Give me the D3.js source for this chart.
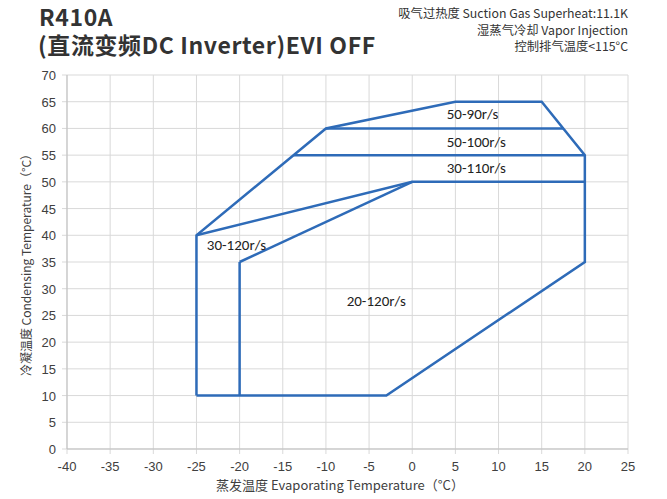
<!DOCTYPE html>
<html><head><meta charset="utf-8">
<script src="https://cdn.jsdelivr.net/npm/d3@7"></script>
<style>body{margin:0;background:#fff}svg{display:block}</style>
</head><body><svg id="c" width="667" height="499"></svg>
<script>
const xTicks = [-40,-35,-30,-25,-20,-15,-10,-5,0,5,10,15,20,25];
const yTicks = [0,5,10,15,20,25,30,35,40,45,50,55,60,65,70];
// outer envelope (evaporating, condensing)
const outerX = [-25,-25,-10,5,15,20,20,-3,-25];
const outerY = [10,40,60,65,65,55,35,10,10];
// inner lines
const segments = [
  {x:[-10,17.5], y:[60,60]},
  {x:[-13.75,20], y:[55,55]},
  {x:[-25,0,20], y:[40,50,50]},
  {x:[-20,0], y:[35,50]},
  {x:[-20,-20], y:[10,35]}
];
const labels = ["50-90r/s","50-100r/s","30-110r/s","30-120r/s","20-120r/s"];
const labelX = [4,4,4,-23.8,-7.6];
const labelY = [61.8,56.6,51.7,37.3,26.7];

const svg = d3.select("#c");
const x = d3.scaleLinear().domain([-40,25]).range([67,628]);
const y = d3.scaleLinear().domain([0,70]).range([449,75]);

// grid
svg.append("g").selectAll("line").data(xTicks).join("line")
  .attr("x1",d=>x(d)).attr("x2",d=>x(d)).attr("y1",y(70)).attr("y2",y(0)+5)
  .attr("stroke","#d9d9d9").attr("stroke-width",1);
svg.append("g").selectAll("line").data(yTicks).join("line")
  .attr("x1",x(-40)-5).attr("x2",x(25)).attr("y1",d=>y(d)).attr("y2",d=>y(d))
  .attr("stroke","#d9d9d9").attr("stroke-width",1);
svg.append("line").attr("x1",x(-40)).attr("x2",x(-40)).attr("y1",y(70)).attr("y2",y(0)).attr("stroke","#bfbfbf");
svg.append("line").attr("x1",x(-40)).attr("x2",x(25)).attr("y1",y(0)).attr("y2",y(0)).attr("stroke","#bfbfbf");

const tf = "'Liberation Sans', Arial, sans-serif";
svg.append("g").selectAll("text").data(xTicks).join("text")
  .attr("x",d=>x(d)).attr("y",471).attr("text-anchor","middle")
  .attr("font-family",tf).attr("font-size",13).attr("fill","#404040").text(d=>d);
svg.append("g").selectAll("text").data(yTicks).join("text")
  .attr("x",56).attr("y",d=>y(d)+5).attr("text-anchor","end")
  .attr("font-family",tf).attr("font-size",13).attr("fill","#404040").text(d=>d);

const line = d3.line().x(d=>x(d[0])).y(d=>y(d[1]));
const blue = "#2e6bb8";
svg.append("path").attr("d", line(d3.zip(outerX,outerY)))
  .attr("fill","none").attr("stroke",blue).attr("stroke-width",2.5).attr("stroke-linejoin","miter");
segments.forEach(s=>{
  svg.append("path").attr("d", line(d3.zip(s.x,s.y)))
    .attr("fill","none").attr("stroke",blue).attr("stroke-width",2.5);
});

labels.forEach((t,i)=>{
  svg.append("text").attr("x",x(labelX[i])).attr("y",y(labelY[i]))
    .attr("font-family","Carlito, Calibri, 'Open Sans', sans-serif").attr("font-size",15).attr("fill","#222").text(t);
});

// title
const cjk = "'Noto Sans CJK SC', 'Noto Sans', sans-serif";
svg.append("text").attr("x",39).attr("y",26).attr("font-family",cjk).attr("font-weight","bold")
  .attr("font-size",23).attr("fill","#333").attr("letter-spacing",0.6).text("R410A");
svg.append("text").attr("x",38).attr("y",54).attr("font-family",cjk).attr("font-weight","bold")
  .attr("font-size",23).attr("fill","#333").attr("letter-spacing",0.6).text("(直流变频DC Inverter)EVI OFF");

const notes = ["吸气过热度 Suction Gas Superheat:11.1K","湿蒸气冷却  Vapor Injection","控制排气温度<115°C"];
notes.forEach((t,i)=>{
  svg.append("text").attr("x",628).attr("y",18+i*16.5).attr("text-anchor","end")
    .attr("font-family",cjk).attr("font-size",12.3).attr("fill","#333").text(t);
});

// axis titles
svg.append("text").attr("transform",`translate(31,${y(35)}) rotate(-90)`).attr("text-anchor","middle")
  .attr("font-family",cjk).attr("font-size",12).attr("fill","#404040").text("冷凝温度 Condensing Temperature（°C）");
svg.append("text").attr("x",340).attr("y",490).attr("text-anchor","middle")
  .attr("font-family",cjk).attr("font-size",13).attr("fill","#404040").text("蒸发温度 Evaporating Temperature（°C）");
</script></body></html>
